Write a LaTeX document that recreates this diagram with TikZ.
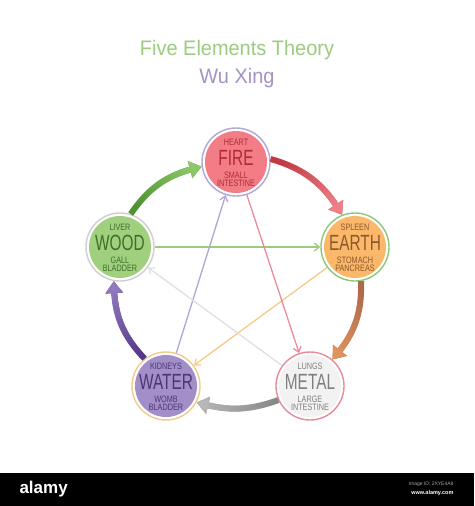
\documentclass[tikz,border=0pt]{standalone}
\usepackage{fontspec}
\setmainfont{Liberation Sans}
\newfontfamily\cond[FakeStretch=0.7]{Liberation Sans}
\newfontfamily\condsmall[FakeStretch=0.78]{Liberation Sans}
\newfontfamily\titlefont[FakeStretch=0.95]{Liberation Sans}
\usetikzlibrary{arrows.meta,bending,fadings}
\tikzfading[name=alongfade, left color=transparent!100, right color=transparent!0]
\definecolor{titlegreen}{HTML}{9CCC7F}
\definecolor{titlepurple}{HTML}{A593C6}
\definecolor{firefill}{HTML}{F27D86}\definecolor{firetext}{HTML}{B02A35}\definecolor{firering}{HTML}{B3A6D4}
\definecolor{earthfill}{HTML}{FBB76A}\definecolor{earthtext}{HTML}{8B5A2B}\definecolor{earthring}{HTML}{8DC87A}
\definecolor{woodfill}{HTML}{A0D07E}\definecolor{woodtext}{HTML}{3E6E2A}\definecolor{woodring}{HTML}{CFCFCF}
\definecolor{waterfill}{HTML}{A38FC7}\definecolor{watertext}{HTML}{4B3577}\definecolor{waterring}{HTML}{F5C98E}
\definecolor{metalfill}{HTML}{F2F2F2}\definecolor{metaltext}{HTML}{7F7F7F}\definecolor{metalring}{HTML}{E98A9A}
\definecolor{greenA}{HTML}{4F9232}\definecolor{greenC}{HTML}{8CC86A}
\definecolor{redA}{HTML}{C23A44}\definecolor{redC}{HTML}{EE8088}
\definecolor{brownA}{HTML}{AE684A}\definecolor{brownC}{HTML}{E0955E}
\definecolor{grayA}{HTML}{858585}\definecolor{grayC}{HTML}{BBBBBB}
\definecolor{purpA}{HTML}{553888}\definecolor{purpC}{HTML}{9079BF}
\definecolor{lgreen}{HTML}{9CCC7F}\definecolor{lorange}{HTML}{F7C98A}\definecolor{llav}{HTML}{B3A5D6}
\definecolor{lpink}{HTML}{EE8A9E}\definecolor{lgray}{HTML}{E0E0E0}
\tikzset{
  elem/.style={circle, minimum size=68pt, inner sep=0pt, line width=1.4pt, fill=white},
  maintxt/.style={inner sep=0pt, font=\cond\fontsize{22}{22}\selectfont},
  orgtxt/.style={inner sep=0pt, align=center, font=\condsmall\fontsize{9.3}{7.8}\selectfont},
  cyclearr/.style={line width=6pt, -{Triangle[width=17pt,length=12pt,bend]}},
  ctrl/.style={line width=1.3pt, -{Straight Barb[length=5pt,width=8pt]}},
}
\newcommand\elementnode[8]{%
  \node[elem, draw=#4] (#1) at (#2) {};
  \fill[#3] (#1.center) circle (31);
  \node[orgtxt, text=#5] (#1top) at ([yshift=20pt]#1.center) {#6};
  \node[maintxt, text=#5] (#1main) at ([yshift=4pt]#1.center) {#7};
  \node[orgtxt, text=#5] (#1bot) at ([yshift=-17pt]#1.center) {#8};
}
% from, to, bend, dark, light, fading angle
\newcommand\cyclearrow[6]{%
  \draw[cyclearr, #4] (#1) to[bend left=#3] (#2);
  \draw[cyclearr, #5, path fading=alongfade, fading angle=#6] (#1) to[bend left=#3] (#2);
}
\begin{document}
\begin{tikzpicture}[x=1pt,y=-1pt]
\useasboundingbox (0,0) rectangle (474,506);
\fill[white] (0,0) rectangle (474,506);
\node[text=titlegreen, font=\titlefont\fontsize{21}{21}\selectfont] (title) at (237,50) {Five Elements Theory};
\node[text=titlepurple, font=\titlefont\fontsize{21}{21}\selectfont] (subtitle) at (237,78) {Wu Xing};

\elementnode{fire}{236,162}{firefill}{firering}{firetext}{HEART}{FIRE}{SMALL\\INTESTINE}
\elementnode{wood}{120,247}{woodfill}{woodring}{woodtext}{LIVER}{WOOD}{GALL\\BLADDER}
\elementnode{earth}{355,247}{earthfill}{earthring}{earthtext}{SPLEEN}{EARTH}{STOMACH\\PANCREAS}
\elementnode{water}{166,386}{waterfill}{waterring}{watertext}{KIDNEYS}{WATER}{WOMB\\BLADDER}
\elementnode{metal}{310,386}{metalfill}{metalring}{metaltext}{LUNGS}{METAL}{LARGE\\INTESTINE}

% controlling cycle
\draw[ctrl, lgreen] (wood) -- (earth);
\draw[ctrl, lorange] (earth) -- (water);
\draw[ctrl, llav] (water) -- (fire);
\draw[ctrl, lpink] (fire) -- (metal);
\draw[ctrl, lgray] (metal) -- (wood);

% generating cycle
\cyclearrow{wood.72}{fire.188}{22}{greenA}{greenC}{33}
\cyclearrow{fire.5}{earth.112}{22}{redA}{redC}{-37}
\cyclearrow{earth.-80}{metal.50}{22}{brownA}{brownC}{-110}
\cyclearrow{metal.204}{water.-28}{18}{grayA}{grayC}{180}
\cyclearrow{water.128}{wood.-100}{22}{purpA}{purpC}{112}

% footer bar
\fill[black] (0,473) rectangle (474,506);
\node[text=white, font=\bfseries\fontsize{17}{17}\selectfont, anchor=west] (alamy) at (16,489) {alamy};
\node[text=gray!70, font=\fontsize{5}{5}\selectfont, anchor=east] (imgid) at (457,484) {Image ID: 2XYE4A8};
\node[text=white, font=\bfseries\fontsize{5.5}{5.5}\selectfont, anchor=east] (www) at (457,493) {www.alamy.com};
\end{tikzpicture}
\end{document}
